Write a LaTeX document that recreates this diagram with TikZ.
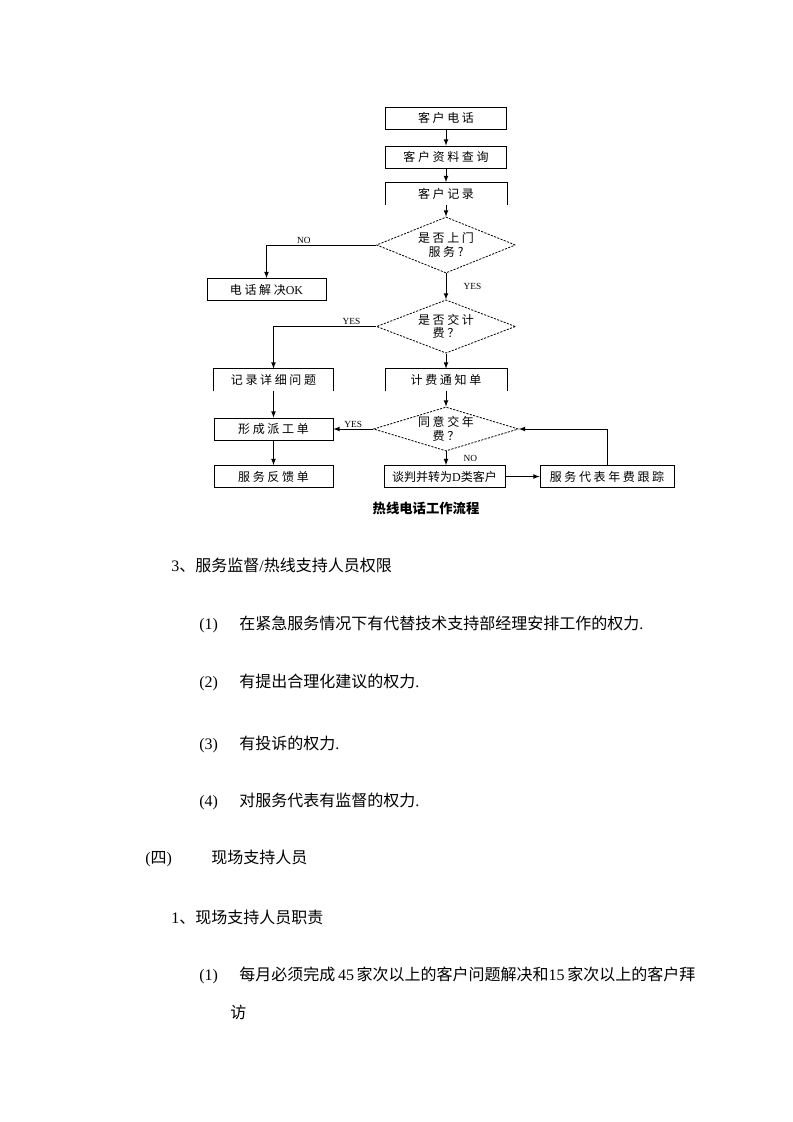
\documentclass[tikz,border=0pt]{standalone}
\usepackage{fontspec}
\setmainfont{Liberation Serif}
\newfontfamily\cjk{Noto Sans CJK SC}
\newfontfamily\cjkchart[LetterSpace=22]{Noto Sans CJK SC}
\usetikzlibrary{shapes.geometric, calc}

\begin{document}
\begin{tikzpicture}[>=latex, x=0.75pt, y=-0.75pt, line width=0.6pt,
	chartbox/.style={draw, minimum width=90.75pt, minimum height=16.5pt, inner sep=0pt,
		font=\cjkchart\fontsize{9}{10}\selectfont},
	openbox/.style={chartbox, draw=none},
	decision/.style={diamond, draw, dash pattern=on 1.6pt off 1pt, inner sep=0pt, align=center,
		font=\cjkchart\fontsize{9}{10}\selectfont},
	answer/.style={font=\fontsize{7}{8}\selectfont, inner sep=1pt},
	para/.style={anchor=base west, inner sep=0pt, font=\cjk\fontsize{12}{14}\selectfont}]
	
	% 1. Page frame
	\useasboundingbox (0,0) rectangle (793,1122);
	
	% 2. Flowchart boxes, centre column
	\node[chartbox] (call) at (446,118) {客户电话};
	\node[chartbox] (query) at (446,157) {客户资料查询};
	\node[openbox] (record) at (446,193.5) {客户记录};
	\node[decision, minimum width=104.25pt, minimum height=42pt, aspect=2.5] (visit) at (446,245) {是否上门\\服务?};
	\node[decision, minimum width=104.25pt, minimum height=40pt, aspect=2.6] (charge) at (446,326.5) {是否交计\\费？};
	\node[openbox] (notice) at (446,380) {计费通知单};
	\node[decision, minimum width=108.75pt, minimum height=33pt, aspect=3.3] (annual) at (446,429) {同意交年\\费？};
	\node[chartbox, font=\cjk\fontsize{9}{10}\selectfont] (classd) at (444.5,476.5) {谈判并转为{\rmfamily D}类客户};
	
	% 3. Side boxes
	\node[chartbox, minimum width=89.25pt] (phoneok) at (266.5,289.5) {电话解决{\rmfamily OK}};
	\node[openbox, minimum width=89.25pt] (detail) at (273.5,380) {记录详细问题};
	\node[chartbox, minimum width=89.25pt] (dispatch) at (273.5,429) {形成派工单};
	\node[chartbox, minimum width=89.25pt] (feedback) at (273.5,476.5) {服务反馈单};
	\node[chartbox, minimum width=100.5pt] (follow) at (607,476.5) {服务代表年费跟踪};
	
	% 4. Open boxes: top and sides only
	\foreach \b in {record, notice, detail}
	\draw (\b.south west) -- (\b.north west) -- (\b.north east) -- (\b.south east);
	
	% 5. Connectors
	\draw[->] (call) -- (query);
	\draw[->] (query) -- (record);
	\draw[->] (record) -- (visit);
	\draw[->] (visit.west) -| (phoneok.north) node[answer, pos=0.33, above] {NO};
	\draw[->] (visit) -- (charge) node[answer, midway, right, xshift=12pt] {YES};
	\draw[->] (charge.west) -| (detail.north) node[answer, pos=0.12, above] {YES};
	\draw[->] (charge) -- (notice);
	\draw[->] (detail) -- (dispatch);
	\draw[->] (notice) -- (annual);
	\draw[->] (annual.west) -- (dispatch.east) node[answer, midway, above] {YES};
	\draw[->] (dispatch) -- (feedback);
	\draw[->] (annual.south) -- (classd.north -| annual.south) node[answer, midway, right, xshift=12pt] {NO};
	\draw[->] (classd) -- (follow);
	\draw[->] (follow.north) |- (annual.east);
	
	% 6. Caption
	\node[font=\cjk\bfseries\fontsize{10}{12}\selectfont] (caption) at (426,508) {热线电话工作流程};
	
	% 7. Body text
	\node[para] (h3) at (171,571) {{\rmfamily 3}、服务监督{\rmfamily /}热线支持人员权限};
	\node[para] (n1) at (199,629) {\rmfamily (1)};
	\node[para] (t1) at (239,629) {在紧急服务情况下有代替技术支持部经理安排工作的权力{\rmfamily .}};
	\node[para] (n2) at (199,687) {\rmfamily (2)};
	\node[para] (t2) at (239,687) {有提出合理化建议的权力{\rmfamily .}};
	\node[para] (n3) at (199,749) {\rmfamily (3)};
	\node[para] (t3) at (239,749) {有投诉的权力{\rmfamily .}};
	\node[para] (n4) at (199,806) {\rmfamily (4)};
	\node[para] (t4) at (239,806) {对服务代表有监督的权力{\rmfamily .}};
	\node[para] (h4) at (145,863) {{\rmfamily (}四{\rmfamily )}};
	\node[para] (t5) at (211,863) {现场支持人员};
	\node[para] (h1) at (171,923) {{\rmfamily 1}、现场支持人员职责};
	\node[para] (n6) at (199,980) {\rmfamily (1)};
	\node[para] (t6) at (239,980) {每月必须完成{\rmfamily\,45\,}家次以上的客户问题解决和{\rmfamily 15\,}家次以上的客户拜};
	\node[para] (t7) at (230,1018) {访};
	
\end{tikzpicture}
\end{document}
